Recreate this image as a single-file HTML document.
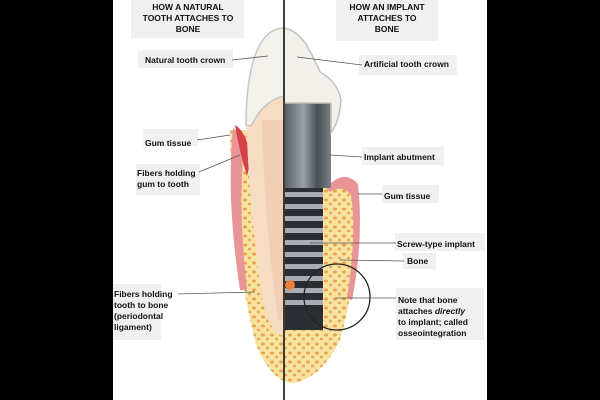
<!DOCTYPE html>
<html><head><style>
body{margin:0;width:600px;height:400px;background:#000;overflow:hidden}
svg{display:block}
text{font-family:"Liberation Sans",sans-serif;font-size:8.5px;fill:#111;font-weight:bold}
</style></head><body>
<svg width="600" height="400" viewBox="0 0 600 400">
<rect x="113" y="0" width="374" height="400" fill="#fff"/>
<defs>
<pattern id="dots" width="9" height="9" patternUnits="userSpaceOnUse">
<rect width="9" height="9" fill="#f7e3a0"/>
<ellipse cx="2" cy="2" rx="2" ry="1.5" fill="#e9a24e"/>
<ellipse cx="6.5" cy="6" rx="1.7" ry="1.4" fill="#eaa85a"/>
</pattern>
<linearGradient id="metal" x1="0" x2="1">
<stop offset="0" stop-color="#5a5f66"/><stop offset="0.4" stop-color="#9aa0a6"/><stop offset="0.7" stop-color="#4a4f55"/><stop offset="1" stop-color="#7a8086"/>
</linearGradient>
</defs>
<g fill="#f0f0f0">
<rect x="131" y="0" width="113" height="38"/>
<rect x="336" y="0" width="102" height="41"/>
<rect x="138" y="50" width="95" height="18"/>
<rect x="359" y="55" width="98" height="20"/>
<rect x="143" y="129" width="55" height="17"/>
<rect x="136" y="164" width="64" height="31"/>
<rect x="362" y="147" width="82" height="18"/>
<rect x="382" y="185" width="57" height="18"/>
<rect x="395" y="233" width="90" height="18"/>
<rect x="403" y="253" width="33" height="16"/>
<rect x="113" y="284" width="48" height="56"/>
<rect x="396" y="288" width="88" height="52"/>
</g>
<!-- bone -->
<path d="M230,130 Q232,250 256,345 Q272,382 292,383 Q320,380 340,340 Q358,280 358,190 Q346,176 330,184 L284,184 L284,130 Z" fill="url(#dots)"/>
<!-- gums -->
<path d="M233,128 Q226,200 240,290 L247,290 Q237,200 245,140 Z" fill="#e99598"/>
<path d="M235,125 Q247,132 251,160 L247,176 Q239,150 235,125Z" fill="#d5424a"/>
<path d="M326,188 Q344,168 358,184 Q364,240 352,300 L347,298 Q357,235 351,195 Q342,184 330,192Z" fill="#e99598"/>
<!-- natural root -->
<path d="M246,110 Q248,200 262,300 Q272,338 284,335 L284,80 Z" fill="#f6dcc4"/>
<path d="M262,120 Q264,220 278,320 L284,320 L284,120 Z" fill="#efc9b0" opacity="0.7"/>
<!-- natural crown -->
<path d="M284,28 Q268,28 258,48 Q246,75 246,125 L251,126 Q264,100 284,96 Z" fill="#f3f1ec" stroke="#c9c6c0" stroke-width="1.5"/>
<!-- implant -->
<rect x="285" y="103" width="46" height="85" fill="url(#metal)"/>
<rect x="285" y="188" width="38" height="142" fill="#2b2e32"/>
<g fill="#a8adb3">
<rect x="285" y="192" width="38" height="5"/><rect x="285" y="204" width="38" height="5"/><rect x="285" y="216" width="38" height="5"/><rect x="285" y="228" width="38" height="5"/><rect x="285" y="240" width="38" height="5"/><rect x="285" y="252" width="38" height="5"/><rect x="285" y="264" width="38" height="5"/><rect x="285" y="276" width="38" height="5"/><rect x="285" y="288" width="38" height="5"/><rect x="285" y="300" width="38" height="5"/>
</g>
<!-- artificial crown -->
<path d="M284,28 Q296,30 306,44 Q316,62 320,72 Q338,82 341,100 Q340,120 331,133 L331,103 L284,103 Z" fill="#f2f0ea" stroke="#c4c1bb" stroke-width="1.5"/>
<circle cx="290" cy="285" r="5" fill="#e9813a"/>
<circle cx="337" cy="297" r="33" fill="none" stroke="#222" stroke-width="1.3"/>
<line x1="284" y1="0" x2="284" y2="400" stroke="#111" stroke-width="1.6"/>
<g stroke="#555" stroke-width="0.8" fill="none">
<line x1="232" y1="60" x2="268" y2="56"/>
<line x1="297" y1="57" x2="362" y2="65"/>
<line x1="197" y1="140" x2="230" y2="135"/>
<line x1="199" y1="172" x2="240" y2="155"/>
<line x1="330" y1="155" x2="362" y2="157"/>
<line x1="358" y1="194" x2="382" y2="194"/>
<line x1="310" y1="243" x2="396" y2="243"/>
<line x1="340" y1="260" x2="404" y2="261"/>
<line x1="178" y1="294" x2="255" y2="292"/>
<line x1="335" y1="298" x2="396" y2="298"/>
</g>
<g text-anchor="middle" font-size="9">
<text x="188" y="10">HOW A NATURAL</text>
<text x="188" y="21">TOOTH ATTACHES TO</text>
<text x="188" y="32">BONE</text>
<text x="387" y="10">HOW AN IMPLANT</text>
<text x="387" y="21">ATTACHES TO</text>
<text x="387" y="32">BONE</text>
</g>
<text x="145" y="63">Natural tooth crown</text>
<text x="364" y="67">Artificial tooth crown</text>
<text x="145" y="146">Gum tissue</text>
<text x="137" y="176">Fibers holding</text>
<text x="137" y="187">gum to tooth</text>
<text x="364" y="160">Implant abutment</text>
<text x="384" y="199">Gum tissue</text>
<text x="397" y="247">Screw-type implant</text>
<text x="407" y="264">Bone</text>
<text x="114" y="297">Fibers holding</text>
<text x="114" y="308">tooth to bone</text>
<text x="114" y="319">(periodontal</text>
<text x="114" y="330">ligament)</text>
<text x="398" y="303">Note that bone</text>
<text x="398" y="314">attaches <tspan font-style="italic">directly</tspan></text>
<text x="398" y="325">to implant; called</text>
<text x="398" y="336" fill="#334">osseointegration</text>
</svg>
</body></html>
